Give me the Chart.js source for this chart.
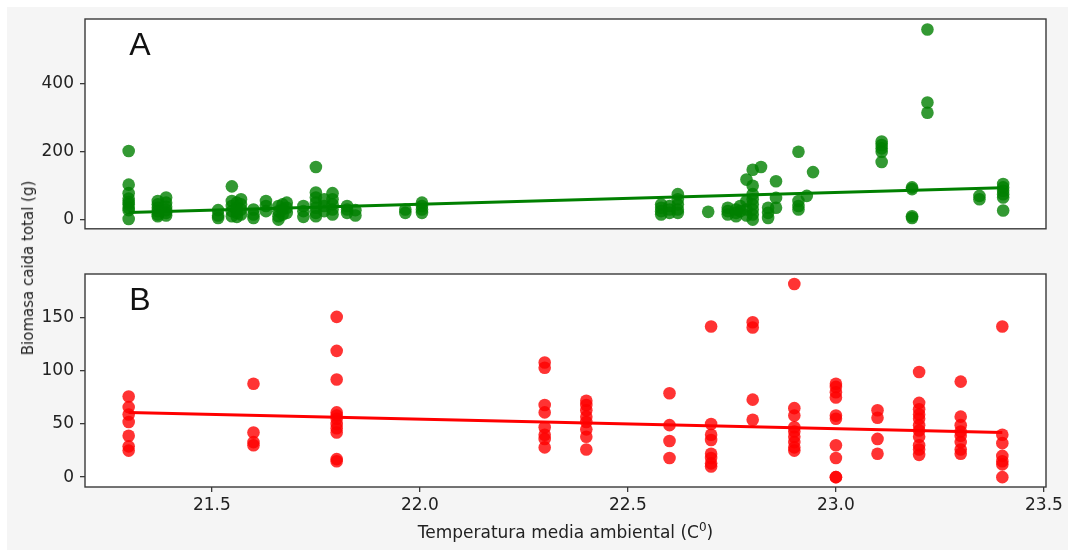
<!DOCTYPE html>
<html>
<head>
<meta charset="utf-8">
<script src="https://cdn.jsdelivr.net/npm/chart.js@4.4.1/dist/chart.umd.min.js"></script>
<style>
  html, body { margin: 0; padding: 0; background: #ffffff; }
  #page { position: relative; width: 1068px; height: 550px; overflow: hidden; }
  #bg { position: absolute; left: 7px; top: 7px; right: 0; bottom: 0; background: #f5f5f5; }
  canvas { position: absolute; left: 0; }
  #cTop { top: 0; }
  #cBottom { top: 255px; }
  #yTitle {
    position: absolute; left: 28px; top: 268px;
    transform: translate(-50%, -50%) rotate(-90deg);
    font: 15px "DejaVu Sans", sans-serif; color: #222; white-space: nowrap;
  }
</style>
</head>
<body>
<div id="page">
  <div id="bg"></div>
  <canvas id="cTop" width="1068" height="245"></canvas>
  <canvas id="cBottom" width="1068" height="295"></canvas>
  <div id="yTitle">Biomasa caida total (g)</div>
</div>
<script>
// Shared temperature axis
const xTickValues = [21.5, 22.0, 22.5, 23.0, 23.5];
const xTickLabels = ['21.5', '22.0', '22.5', '23.0', '23.5'];
const xTitleMain = 'Temperatura media ambiental (C';
const xTitleSup = '0';
const xTitleEnd = ')';

// Panel A: temperature of each group and the biomass values recorded at it
const tempA = [21.30, 21.37, 21.39, 21.515, 21.548, 21.56, 21.57, 21.60, 21.63, 21.66,
               21.67, 21.68, 21.72, 21.75, 21.77, 21.79, 21.825, 21.845, 21.965, 22.005,
               22.58, 22.60, 22.62, 22.693, 22.74, 22.76, 22.77, 22.785, 22.80, 22.82,
               22.837, 22.856, 22.91, 22.93, 22.945, 23.11, 23.183, 23.22, 23.345, 23.402];
const biomassA = [
  [202, 103, 78, 62, 52, 45, 35, 28, 2],
  [55, 45, 35, 25, 15, 10],
  [65, 50, 38, 28, 20, 12],
  [28, 12, 5],
  [98, 55, 40, 25, 10],
  [50, 35, 20, 8],
  [60, 45, 30, 15],
  [30, 15, 5],
  [55, 40, 25],
  [40, 25, 10, 0],
  [45, 30, 15],
  [50, 35, 20],
  [40, 25, 8],
  [155, 80, 65, 50, 35, 20, 10],
  [60, 40, 25],
  [78, 60, 45, 30, 15],
  [40, 30, 20],
  [28, 12],
  [30, 20],
  [50, 40, 30, 20],
  [45, 35, 25, 15],
  [40, 30, 20],
  [75, 60, 45, 30, 20],
  [23],
  [35, 25, 15],
  [30, 20, 10],
  [40, 25],
  [118, 55, 30, 12],
  [147, 100, 75, 60, 45, 30, 15, 0],
  [155],
  [35, 20, 5],
  [113, 64, 35],
  [200, 55, 40, 30],
  [70],
  [140],
  [230, 220, 210, 200, 170],
  [95, 90, 10, 5],
  [560, 345, 315],
  [70, 60],
  [105, 95, 85, 75, 65, 27]
];
const trendTempA = [21.3, 23.4];
const trendBiomassA = [21, 94];
const yTicksA = [0, 200, 400];

// Panel B
const tempB = [21.3, 21.6, 21.8, 22.3, 22.4, 22.6, 22.7, 22.8, 22.9, 23.0, 23.1, 23.2, 23.3, 23.4];
const biomassB = [
  [76, 66, 59, 52, 39, 29, 25],
  [88, 42, 33, 30],
  [151, 119, 92, 61, 58, 55, 50, 46, 42, 17, 15],
  [108, 103, 68, 61, 47, 40, 36, 28],
  [72, 68, 63, 57, 52, 45, 38, 26],
  [79, 49, 34, 18],
  [142, 50, 40, 35, 22, 18, 13, 10],
  [146, 141, 73, 54],
  [182, 65, 58, 47, 43, 38, 33, 28, 25],
  [88, 85, 80, 75, 58, 55, 30, 18, 0, 0],
  [63, 56, 36, 22],
  [99, 70, 64, 59, 55, 49, 44, 38, 30, 26, 21],
  [90, 57, 49, 43, 39, 33, 26, 22],
  [142, 40, 32, 20, 15, 12, 0]
];
const trendTempB = [21.3, 23.4];
const trendBiomassB = [61, 42];
const yTicksB = [0, 50, 100, 150];

function toPoints(xs, groups) {
  const pts = [];
  xs.forEach((x, i) => groups[i].forEach(y => pts.push({ x, y })));
  return pts;
}
function toLine(xs, ys) {
  return xs.map((x, i) => ({ x, y: ys[i] }));
}

const INK = '#222222';
const SPINE = '#3a3a3a';
const FONT = '"DejaVu Sans"';

// White plot face, box spines, panel letter and (bottom panel) the x title with superscript
const panelDecor = {
  id: 'panelDecor',
  beforeDatasetsDraw(chart) {
    const { ctx, chartArea: a } = chart;
    ctx.save();
    ctx.fillStyle = '#ffffff';
    ctx.fillRect(a.left, a.top, a.right - a.left, a.bottom - a.top);
    ctx.restore();
  },
  afterDatasetsDraw(chart, args, opts) {
    const { ctx, chartArea: a } = chart;
    ctx.save();
    ctx.strokeStyle = SPINE;
    ctx.lineWidth = 1.4;
    ctx.strokeRect(a.left, a.top, a.right - a.left, a.bottom - a.top);
    ctx.fillStyle = '#111111';
    ctx.font = '32px "Liberation Sans", Arial, sans-serif';
    ctx.textAlign = 'center';
    ctx.textBaseline = 'middle';
    ctx.fillText(opts.letter, a.left + 55, a.top + 27);

    if (opts.xTitle) {
      const mainFont = '17px ' + FONT;
      const supFont = '12px ' + FONT;
      ctx.textAlign = 'left';
      ctx.textBaseline = 'alphabetic';
      ctx.fillStyle = INK;
      ctx.font = mainFont;
      const w1 = ctx.measureText(xTitleMain).width;
      const w3 = ctx.measureText(xTitleEnd).width;
      ctx.font = supFont;
      const w2 = ctx.measureText(xTitleSup).width;
      const cx = (a.left + a.right) / 2;
      const baseY = a.bottom + 51;
      let x = cx - (w1 + w2 + w3) / 2;
      ctx.font = mainFont;
      ctx.fillText(xTitleMain, x, baseY);
      x += w1;
      ctx.font = supFont;
      ctx.fillText(xTitleSup, x, baseY - 7);
      x += w2;
      ctx.font = mainFont;
      ctx.fillText(xTitleEnd, x, baseY);
    }
    ctx.restore();
  }
};

function makeChart(canvasId, cfg) {
  const showX = cfg.showX;
  return new Chart(document.getElementById(canvasId), {
    type: 'scatter',
    data: {
      datasets: [
        {
          type: 'line',
          data: cfg.trend,
          borderColor: cfg.lineColor,
          borderWidth: 3,
          pointRadius: 0,
          fill: false,
          tension: 0,
          order: 0
        },
        {
          data: cfg.points,
          pointRadius: 6.3,
          pointBackgroundColor: cfg.pointColor,
          pointBorderWidth: 0,
          order: 1
        }
      ]
    },
    options: {
      responsive: false,
      devicePixelRatio: 1,
      animation: false,
      events: [],
      layout: { padding: { left: 0, right: 22, top: 19, bottom: showX ? 0 : 14 } },
      plugins: {
        legend: { display: false },
        tooltip: { enabled: false },
        panelDecor: { letter: cfg.letter, xTitle: showX }
      },
      scales: {
        x: {
          type: 'linear',
          min: 21.195,
          max: 23.505,
          display: showX,
          afterBuildTicks: s => { s.ticks = xTickValues.map(v => ({ value: v })); },
          afterFit: s => { s.height = showX ? 63 : 0; },
          grid: { drawOnChartArea: false, drawTicks: true, tickLength: 5, color: SPINE, lineWidth: 1.3 },
          border: { display: false },
          ticks: {
            color: INK,
            padding: 3,
            maxRotation: 0,
            font: { family: FONT, size: 17 },
            callback: (v, i) => xTickLabels[i]
          }
        },
        y: {
          type: 'linear',
          min: cfg.yMin,
          max: cfg.yMax,
          afterBuildTicks: s => { s.ticks = cfg.yTicks.map(v => ({ value: v })); },
          afterFit: s => { s.width = 85; },
          grid: { drawOnChartArea: false, drawTicks: true, tickLength: 5, color: SPINE, lineWidth: 1.3 },
          border: { display: false },
          ticks: {
            color: INK,
            padding: 6,
            font: { family: FONT, size: 17 },
            callback: v => String(v)
          }
        }
      }
    },
    plugins: [panelDecor]
  });
}

makeChart('cTop', {
  letter: 'A',
  showX: false,
  points: toPoints(tempA, biomassA),
  trend: toLine(trendTempA, trendBiomassA),
  pointColor: 'rgba(0,128,0,0.8)',
  lineColor: 'rgb(0,128,0)',
  yMin: -27, yMax: 591,
  yTicks: yTicksA
});

makeChart('cBottom', {
  letter: 'B',
  showX: true,
  points: toPoints(tempB, biomassB),
  trend: toLine(trendTempB, trendBiomassB),
  pointColor: 'rgba(255,0,0,0.8)',
  lineColor: 'rgb(255,0,0)',
  yMin: -9.3, yMax: 191.4,
  yTicks: yTicksB
});
</script>
</body>
</html>
